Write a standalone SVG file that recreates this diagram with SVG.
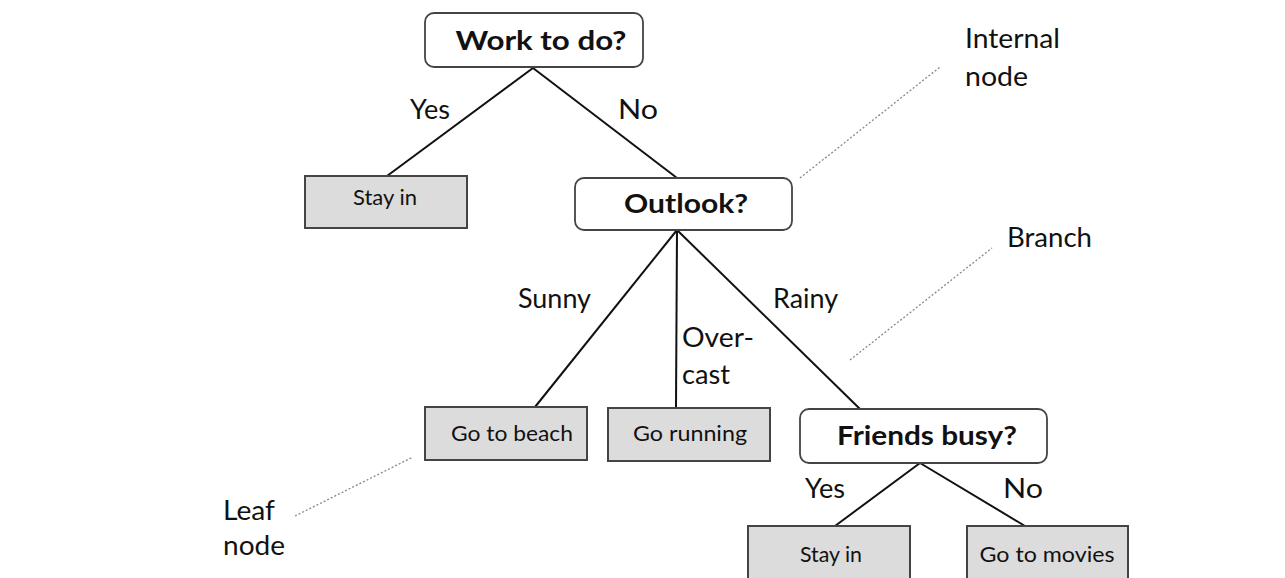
<svg xmlns="http://www.w3.org/2000/svg" width="1285" height="578" viewBox="0 0 1285 578">
<style>
text{font-family:Lato,"Open Sans","Liberation Sans",sans-serif;fill:#111}
.q rect{fill:#fff;stroke:#444;stroke-width:1.8}
.q text{font-weight:bold;font-size:26px;text-anchor:middle}
.leaf rect{fill:#dcdcdc;stroke:#444;stroke-width:2}
.leaf text{font-size:21px;text-anchor:middle}
.edge{stroke:#111;stroke-width:2;fill:none}
.dot{stroke:#888;stroke-width:1.3;stroke-dasharray:2 2;fill:none}
.lbl{font-size:26px}
</style>
<rect width="1285" height="578" fill="#fff"/>
<g id="connectors">
<line class="edge" x1="533" y1="68" x2="387" y2="176"/>
<line class="edge" x1="533" y1="68" x2="677" y2="178"/>
<line class="edge" x1="677" y1="230" x2="535" y2="407"/>
<line class="edge" x1="677" y1="230" x2="676" y2="408"/>
<line class="edge" x1="677" y1="230" x2="860" y2="409"/>
<line class="edge" x1="920" y1="463" x2="835" y2="526"/>
<line class="edge" x1="920" y1="463" x2="1025" y2="526"/>
<line class="dot" x1="800" y1="178" x2="940" y2="67"/>
<line class="dot" x1="850" y1="360" x2="992" y2="248"/>
<line class="dot" x1="295" y1="516" x2="413" y2="457"/>
<text class="lbl" x="410" y="119" textLength="40" lengthAdjust="spacingAndGlyphs">Yes</text>
<text class="lbl" x="618" y="119" textLength="40" lengthAdjust="spacingAndGlyphs">No</text>
<text class="lbl" x="518" y="308" textLength="73" lengthAdjust="spacingAndGlyphs">Sunny</text>
<text class="lbl" x="682" y="347" textLength="72" lengthAdjust="spacingAndGlyphs">Over-</text>
<text class="lbl" x="682" y="384" textLength="48" lengthAdjust="spacingAndGlyphs">cast</text>
<text class="lbl" x="773" y="308" textLength="65" lengthAdjust="spacingAndGlyphs">Rainy</text>
<text class="lbl" x="805" y="498" textLength="40" lengthAdjust="spacingAndGlyphs">Yes</text>
<text class="lbl" x="1003" y="498" textLength="40" lengthAdjust="spacingAndGlyphs">No</text>
</g>
<g id="annotations">
<text class="lbl" x="965" y="48" textLength="95" lengthAdjust="spacingAndGlyphs">Internal</text>
<text class="lbl" x="965" y="86" textLength="63" lengthAdjust="spacingAndGlyphs">node</text>
<text class="lbl" x="1007" y="247" textLength="85" lengthAdjust="spacingAndGlyphs">Branch</text>
<text class="lbl" x="223" y="520" textLength="52" lengthAdjust="spacingAndGlyphs">Leaf</text>
<text class="lbl" x="223" y="555" textLength="62" lengthAdjust="spacingAndGlyphs">node</text>
</g>
<g id="work" class="q"><rect x="425" y="13" width="218" height="54" rx="9"/><text x="541" y="50" textLength="171" lengthAdjust="spacingAndGlyphs">Work to do?</text></g>
<g id="stayin1" class="leaf"><rect x="305" y="176" width="162" height="52"/><text x="385" y="205" textLength="64" lengthAdjust="spacingAndGlyphs">Stay in</text></g>
<g id="outlook" class="q"><rect x="575" y="178" width="217" height="52" rx="9"/><text x="686" y="213" textLength="124" lengthAdjust="spacingAndGlyphs">Outlook?</text></g>
<g id="beach" class="leaf"><rect x="425" y="407" width="162" height="53"/><text x="512" y="441" textLength="122" lengthAdjust="spacingAndGlyphs">Go to beach</text></g>
<g id="running" class="leaf"><rect x="608" y="408" width="162" height="53"/><text x="690" y="441" textLength="114" lengthAdjust="spacingAndGlyphs">Go running</text></g>
<g id="friends" class="q"><rect x="800" y="409" width="247" height="54" rx="9"/><text x="927" y="445" textLength="180" lengthAdjust="spacingAndGlyphs">Friends busy?</text></g>
<g id="stayin2" class="leaf"><rect x="748" y="526" width="162" height="56"/><text x="831" y="562" textLength="62" lengthAdjust="spacingAndGlyphs">Stay in</text></g>
<g id="movies" class="leaf"><rect x="967" y="526" width="161" height="56"/><text x="1047" y="562" textLength="135" lengthAdjust="spacingAndGlyphs">Go to movies</text></g>
</svg>
